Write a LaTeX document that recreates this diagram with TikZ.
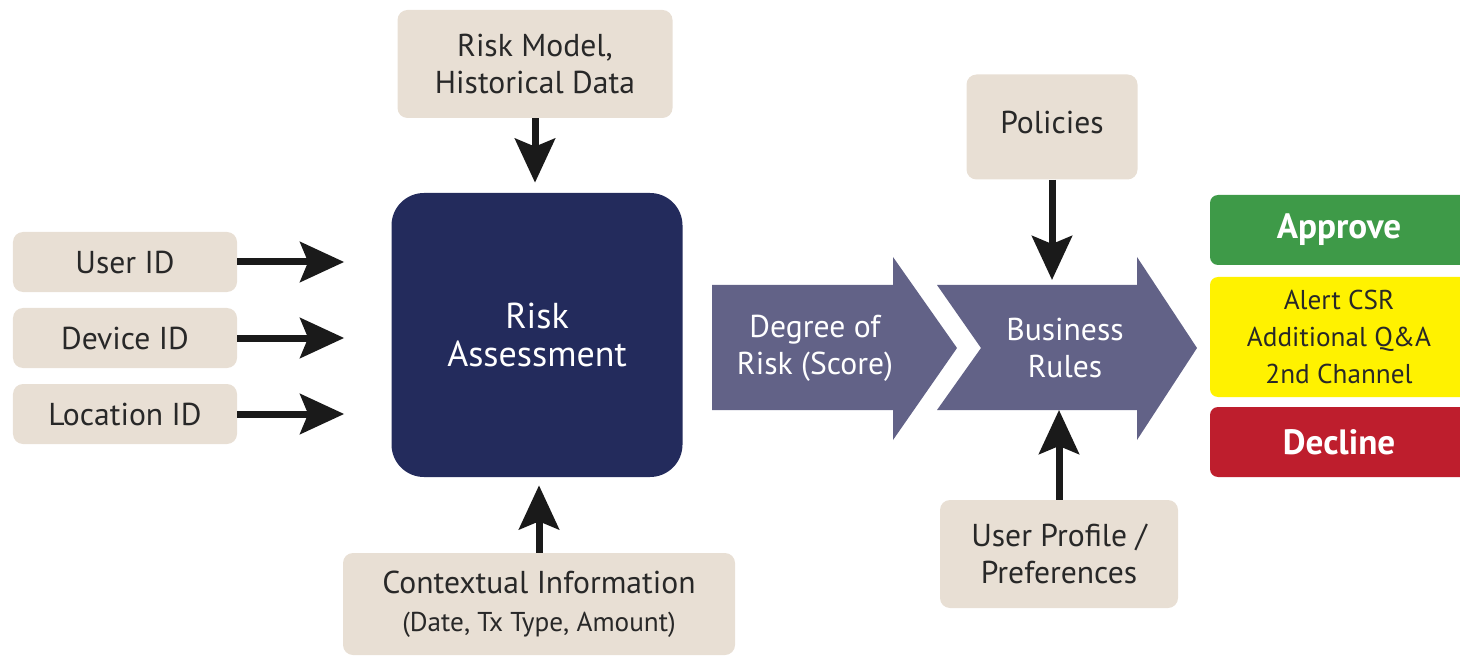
\documentclass[tikz,border=0pt]{standalone}
\usepackage{fontspec}
\setmainfont{PT Sans}
\usepackage{tikz}
\usetikzlibrary{
    arrows.meta,
    positioning,
    calc
}
\usepackage{xcolor}
\definecolor{boxbeige}{RGB}{232,223,212}
\definecolor{textdark}{RGB}{40,40,40}
\definecolor{navyblue}{RGB}{35,43,92}
\definecolor{slate}{RGB}{98,98,135}
\definecolor{okgreen}{RGB}{62,154,72}
\definecolor{warnyellow}{RGB}{255,242,0}
\definecolor{stopred}{RGB}{190,30,45}
\definecolor{arrowblack}{RGB}{26,26,26}

\begin{document}
\begin{tikzpicture}[
    x=0.2mm, y=-0.2mm,
    infobox/.style={rectangle, rounded corners=2mm, fill=boxbeige, text=textdark, align=center, inner sep=0pt, font=\fontsize{18}{21.5}\selectfont},
    outcome/.style={rectangle, rounded corners=1.6mm, align=center, inner sep=0pt, minimum width=51.6mm},
    flowtext/.style={text=white, align=center, font=\fontsize{18}{21}\selectfont},
    bigarrow/.style={-{Stealth[length=8.8mm, width=8mm, inset=1.6mm]}, line width=1.4mm, arrowblack}
]
\useasboundingbox (0,0) rectangle (1460,658);

% === INPUTS (left) ===
\node[infobox, minimum width=44.8mm, minimum height=12mm] (userid) at (125,262) {User ID};
\node[infobox, minimum width=44.8mm, minimum height=12mm] (deviceid) at (125,338) {Device ID};
\node[infobox, minimum width=44.8mm, minimum height=12mm] (locationid) at (125,414) {Location ID};

% === RISK ASSESSMENT (center) ===
\node[infobox, minimum width=55mm, minimum height=21.6mm] (riskmodel) at (535,64) {Risk Model,\\Historical Data};
\node[rectangle, rounded corners=6.5mm, fill=navyblue, minimum width=58.2mm, minimum height=56.8mm,
      text=white, align=center, font=\fontsize{20.5}{21.5}\selectfont] (assess) at (537,335) {Risk\\Assessment};
\node[infobox, minimum width=78.4mm, minimum height=20.4mm] (context) at (539,604)
    {Contextual Information\\{\fontsize{15.5}{17}\selectfont (Date, Tx Type, Amount)}};

\draw[bigarrow, shorten >=9.4mm] (userid.east) -- (userid.east -| assess.west);
\draw[bigarrow, shorten >=9.4mm] (deviceid.east) -- (deviceid.east -| assess.west);
\draw[bigarrow, shorten >=9.4mm] (locationid.east) -- (locationid.east -| assess.west);
\draw[bigarrow, shorten >=2mm] (riskmodel.south) -- (riskmodel.south |- assess.north);
\draw[bigarrow, shorten >=1.6mm] (context.north) -- (context.north |- assess.south);

% === SCORE AND RULES (right) ===
\fill[slate] (712,285) -- (893,285) -- (893,257) -- (957,348) -- (893,440) -- (893,410) -- (712,410) -- cycle;
\node[flowtext] (degree) at (815,348) {Degree of\\Risk (Score)};
\fill[slate] (937,285) -- (1137,285) -- (1137,257) -- (1197,348) -- (1137,440) -- (1137,410) -- (937,410) -- (981,348) -- cycle;
\node[flowtext] (rules) at (1065,348) {Business\\Rules};
\coordinate (rulestop) at (1055,285);
\coordinate (rulesbot) at (1057,410);

\node[infobox, minimum width=34.2mm, minimum height=21mm] (policies) at (1052,127) {\raisebox{1.8mm}{Policies}};
\node[infobox, minimum width=47.6mm, minimum height=21.6mm] (profile) at (1059,554) {User Profile /\\Preferences};

\draw[bigarrow, shorten >=1mm] (policies.south) -- (policies.south |- rulestop);
\draw[bigarrow] (profile.north) -- (profile.north |- rulesbot);

% Outcomes
\node[outcome, fill=okgreen, minimum height=14mm, text=white, font=\fontsize{20}{22}\selectfont\bfseries] (approve) at (1339,230) {Approve};
\node[outcome, fill=warnyellow, minimum height=24mm, text=textdark, font=\fontsize{15.5}{21}\selectfont] (alert) at (1339,337) {Alert CSR\\Additional Q\&A\\2nd Channel};
\node[outcome, fill=stopred, minimum height=14mm, text=white, font=\fontsize{20}{22}\selectfont\bfseries] (decline) at (1339,442) {Decline};

\end{tikzpicture}
\end{document}
